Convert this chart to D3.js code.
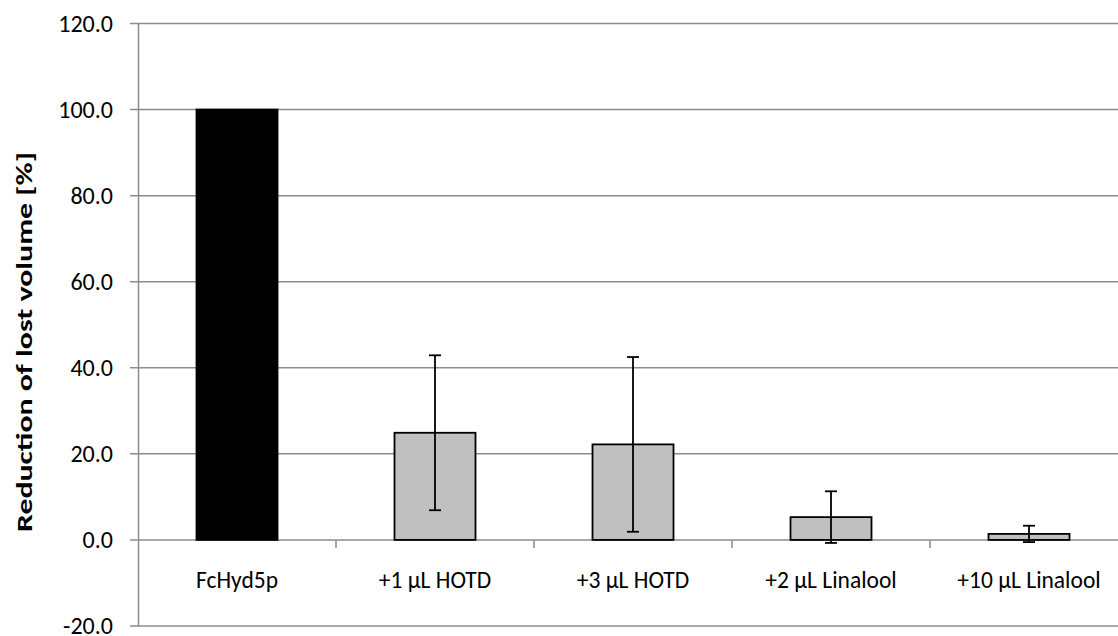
<!DOCTYPE html>
<html>
<head>
    <meta charset="utf-8">
    <script src="https://d3js.org/d3.v7.min.js"></script>
    <style>
        body { margin: 0; background: #fff; }
        text { font-family: Carlito, "Open Sans", "Liberation Sans", sans-serif; fill: #000; }
    </style>
</head>
<body>
    <div id="chart"></div>
    <script>
        const categories = ["FcHyd5p", "+1 \u00b5L HOTD", "+3 \u00b5L HOTD", "+2 \u00b5L Linalool", "+10 \u00b5L Linalool"];
        const values = [100.0, 24.9, 22.2, 5.3, 1.4];
        const errors = [0, 18.0, 20.3, 6.0, 1.9];
        const barColors = ["#000000", "#c0c0c0", "#c0c0c0", "#c0c0c0", "#c0c0c0"];
        const yTicks = [-20, 0, 20, 40, 60, 80, 100, 120];

        const width = 1118, height = 636;
        const margin = { top: 23.5, right: -10, bottom: 10, left: 138 };

        const svg = d3.select("#chart").append("svg")
            .attr("width", width)
            .attr("height", height);

        const x = d3.scaleBand()
            .domain(categories)
            .range([margin.left, width - margin.right])
            .paddingInner(0)
            .paddingOuter(0);

        const y = d3.scaleLinear()
            .domain([-20, 120])
            .range([height - margin.bottom, margin.top]);

        // gridlines
        svg.append("g")
            .selectAll("line")
            .data(yTicks)
            .join("line")
            .attr("x1", margin.left - 8)
            .attr("x2", width)
            .attr("y1", d => y(d))
            .attr("y2", d => y(d))
            .attr("stroke", "#8c8c8c")
            .attr("stroke-width", 1.5);

        // y axis
        const yAxis = svg.append("g")
            .attr("transform", `translate(${margin.left},0)`)
            .call(d3.axisLeft(y).tickValues(yTicks).tickFormat(d => d.toFixed(1)).tickSize(0).tickPadding(25));
        yAxis.select(".domain").attr("stroke", "#8c8c8c").attr("stroke-width", 1.5);
        yAxis.selectAll("text").style("font-size", "24px");

        // category axis at zero
        const bounds = categories.slice(1).map(c => x(c));
        svg.append("g")
            .selectAll("line")
            .data(bounds)
            .join("line")
            .attr("x1", d => d)
            .attr("x2", d => d)
            .attr("y1", y(0))
            .attr("y2", y(0) + 8)
            .attr("stroke", "#8c8c8c")
            .attr("stroke-width", 1.5);

        svg.append("g")
            .selectAll("text")
            .data(categories)
            .join("text")
            .attr("x", d => x(d) + x.bandwidth() / 2)
            .attr("y", y(0) + 48)
            .attr("text-anchor", "middle")
            .style("font-size", "23.5px")
            .text(d => d);

        // bars
        const barW = 81;
        svg.append("g")
            .selectAll("rect")
            .data(categories)
            .join("rect")
            .attr("x", d => x(d) + x.bandwidth() / 2 - barW / 2)
            .attr("width", barW)
            .attr("y", (d, i) => y(values[i]))
            .attr("height", (d, i) => y(0) - y(values[i]))
            .attr("fill", (d, i) => barColors[i])
            .attr("stroke", "#000")
            .attr("stroke-width", 1.8);

        // error bars
        const eb = svg.append("g")
            .selectAll("g")
            .data(categories.filter((d, i) => errors[i] > 0))
            .join("g")
            .attr("stroke", "#000")
            .attr("stroke-width", 1.8);
        eb.each(function(d) {
            const i = categories.indexOf(d);
            const cx = x(d) + x.bandwidth() / 2;
            const g = d3.select(this);
            g.append("line")
                .attr("x1", cx).attr("x2", cx)
                .attr("y1", y(values[i] + errors[i]))
                .attr("y2", y(values[i] - errors[i]));
            [values[i] + errors[i], values[i] - errors[i]].forEach(v => {
                g.append("line")
                    .attr("x1", cx - 6).attr("x2", cx + 6)
                    .attr("y1", y(v)).attr("y2", y(v));
            });
        });

        // y title
        svg.append("text")
            .attr("transform", "translate(32,342) rotate(-90)")
            .attr("text-anchor", "middle")
            .attr("textLength", 380)
            .attr("lengthAdjust", "spacingAndGlyphs")
            .style("font-size", "23px")
            .style("font-weight", "bold")
            .text("Reduction of lost volume [%]");
    </script>
</body>
</html>
